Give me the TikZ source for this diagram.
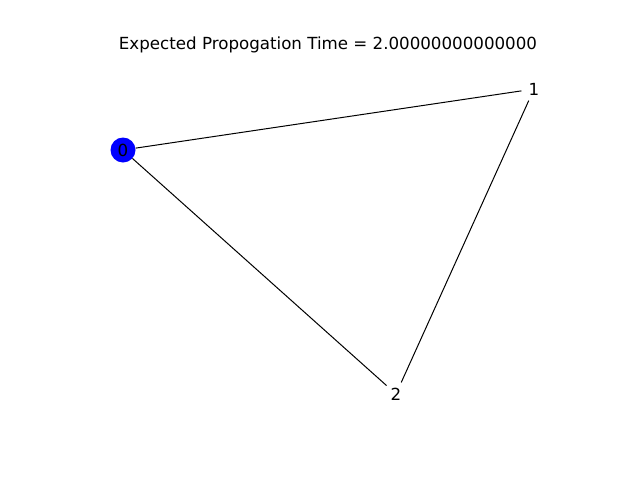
\documentclass[tikz,border=0pt]{standalone}
\usepackage{fontspec}
\setmainfont{DejaVu Sans}
\begin{document}
\begin{tikzpicture}[x=1pt,y=-1pt,
  vertex/.style={circle,minimum size=25pt,inner sep=0pt,font=\fontsize{16.67}{20}\selectfont},
  edge/.style={draw=black,line width=1pt}]
\useasboundingbox (0,0) rectangle (640,480);
\node[vertex,fill=blue] (n0) at (123,150) {0};
\node[vertex,fill=white] (n1) at (534,89) {1};
\node[vertex,fill=white] (n2) at (396,394) {2};
\draw[edge] (n0) -- (n1);
\draw[edge] (n1) -- (n2);
\draw[edge] (n0) -- (n2);
\node[anchor=base,inner sep=0pt,font=\fontsize{16.67}{20}\selectfont] (title) at (328,49) {Expected Propogation Time = 2.00000000000000};
\end{tikzpicture}
\end{document}
